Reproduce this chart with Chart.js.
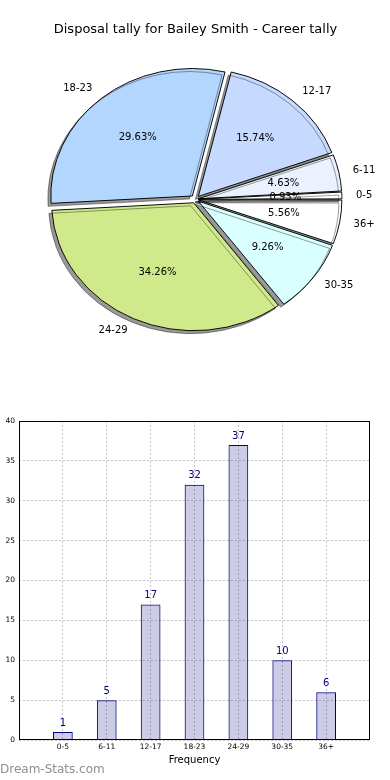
<!DOCTYPE html>
<html>
<head>
<meta charset="utf-8">
<script src="https://cdn.jsdelivr.net/npm/chart.js@4.4.1/dist/chart.umd.min.js"></script>
<style>
    body { margin: 0; background: #fff; width: 390px; height: 780px; position: relative; overflow: hidden; }
    #pieWrap { position: absolute; left: 0; top: 0; width: 390px; height: 400px; }
    #barWrap { position: absolute; left: 0; top: 400px; width: 390px; height: 380px; }
    #brand { position: absolute; left: 0; top: 762px; font: 12px "DejaVu Sans"; color: #8f8f8f; }
</style>
</head>
<body>
<div id="pieWrap"><canvas id="pieChart" width="390" height="400"></canvas></div>
<div id="barWrap"><canvas id="barChart" width="390" height="380"></canvas></div>
<div id="brand">Dream-Stats.com</div>
<script>
// data
var categories = ["0-5", "6-11", "12-17", "18-23", "24-29", "30-35", "36+"];
var tally = [1, 5, 17, 32, 37, 10, 6];
var percentLabels = ["0.93%", "4.63%", "15.74%", "29.63%", "34.26%", "9.26%", "5.56%"];
var sliceColors = ["#ffffff", "#ebf1ff", "#c6daff", "#b3d6ff", "#d0ea8b", "#d9ffff", "#ffffff"];
var yTicks = [0, 5, 10, 15, 20, 25, 30, 35, 40];

var titleText = "Disposal tally for Bailey Smith - Career tally";
var squash = 0.9; // pie is drawn a bit flat, like the original

// chart.js goes clockwise, the original goes counter clockwise from 3 o'clock
var pieLabels = categories.slice().reverse();
var pieValues = tally.slice().reverse();
var piePercents = percentLabels.slice().reverse();
var pieColors = sliceColors.slice().reverse();

// chart.js also grows thin slices when offset, so give them less offset
function explode(ctx) {
    const total = pieValues.reduce((a, b) => a + b, 0);
    const circ = pieValues[ctx.dataIndex] / total * Math.PI * 2;
    const fix = 1 - Math.sin(Math.min(Math.PI, circ));
    return 20 / (1 + fix);
}

var pieLook = {
    id: "pieLook",
    beforeDatasetsDraw: (chart) => {
        const ctx = chart.ctx;
        const arc = chart.getDatasetMeta(0).data[0];
        ctx.save();
        ctx.translate(arc.x, arc.y);
        ctx.scale(1, squash);
        ctx.translate(-arc.x, -arc.y);
        ctx.shadowColor = "rgba(0,0,0,0.4)";
        ctx.shadowOffsetX = -3;
        ctx.shadowOffsetY = 3;
        ctx.shadowBlur = 0;
    },
    afterDatasetsDraw: (chart) => {
        const ctx = chart.ctx;
        ctx.restore();
        ctx.save();
        ctx.font = "10px 'DejaVu Sans'";
        ctx.fillStyle = "#000";
        ctx.textBaseline = "middle";
        chart.getDatasetMeta(0).data.forEach((arc, i) => {
            const mid = (arc.startAngle + arc.endAngle) / 2;
            const shift = 5;
            const cx = arc.x + Math.cos(mid) * shift;
            const cy = arc.y + Math.sin(mid) * shift * squash;
            const r = arc.outerRadius;
            ctx.textAlign = "center";
            ctx.fillText(piePercents[i], cx + Math.cos(mid) * r * 0.6, cy + Math.sin(mid) * r * 0.6 * squash);
            const lx = cx + Math.cos(mid) * r * 1.1;
            const ly = cy + Math.sin(mid) * r * 1.1 * squash;
            ctx.textAlign = Math.cos(mid) < 0 ? "right" : "left";
            ctx.fillText(pieLabels[i], lx, ly);
        });
        ctx.restore();
    }
};

new Chart(document.getElementById("pieChart"), {
    type: "pie",
    data: {
        labels: pieLabels,
        datasets: [{
            data: pieValues,
            backgroundColor: pieColors,
            borderColor: "#000",
            borderWidth: 1,
            offset: explode
        }]
    },
    options: {
        responsive: false,
        animation: false,
        events: [],
        rotation: 90,
        layout: { padding: { left: 44, right: 43, top: 0, bottom: 49 } },
        plugins: {
            legend: { display: false },
            tooltip: { enabled: false },
            title: {
                display: true,
                text: titleText,
                color: "#000",
                font: { family: "DejaVu Sans", size: 13, weight: "normal" },
                padding: { top: 22, bottom: 10 }
            }
        }
    },
    plugins: [pieLook]
});

var barValues = {
    id: "barValues",
    afterDatasetsDraw: (chart) => {
        const ctx = chart.ctx;
        ctx.save();
        ctx.font = "10px 'DejaVu Sans'";
        ctx.fillStyle = "#000080";
        ctx.textAlign = "center";
        ctx.textBaseline = "middle";
        chart.getDatasetMeta(0).data.forEach((bar, i) => {
            ctx.fillText(tally[i], bar.x, bar.y - 9);
        });
        ctx.restore();
    },
    afterDraw: (chart) => {
        const a = chart.chartArea;
        const ctx = chart.ctx;
        ctx.save();
        ctx.strokeStyle = "#000";
        ctx.lineWidth = 1;
        ctx.strokeRect(a.left + 0.5, a.top + 0.5, a.right - a.left - 1, a.bottom - a.top - 1);
        ctx.restore();
    }
};

new Chart(document.getElementById("barChart"), {
    type: "bar",
    data: {
        datasets: [{
            data: tally.map((v, i) => ({ x: i, y: v })),
            backgroundColor: "rgba(0,0,128,0.2)",
            borderColor: "#000080",
            borderWidth: 1,
            barPercentage: 0.45,
            categoryPercentage: 1
        }]
    },
    options: {
        responsive: false,
        animation: false,
        events: [],
        layout: { padding: { left: 0, right: 20, top: 21, bottom: 0 } },
        plugins: { legend: { display: false }, tooltip: { enabled: false } },
        scales: {
            x: {
                type: "linear",
                min: -1,
                max: 7,
                offset: false,
                afterFit: (scale) => { scale.height = 40; },
                afterBuildTicks: (scale) => { scale.ticks = categories.map((c, i) => ({ value: i })); },
                ticks: {
                    autoSkip: false,
                    maxRotation: 0,
                    padding: 3,
                    color: "#000",
                    font: { family: "DejaVu Sans", size: 7.5 },
                    callback: (v) => categories[v]
                },
                grid: { color: "#c4c4c4", drawTicks: false, offset: false },
                // in v4 the dash of the grid lines lives under border
                border: { display: false, dash: [2, 2] },
                title: {
                    display: true,
                    text: "Frequency",
                    color: "#000",
                    font: { family: "DejaVu Sans", size: 10 },
                    padding: { top: 0, bottom: 14 }
                }
            },
            y: {
                min: 0,
                max: 40,
                afterFit: (scale) => { scale.width = 19; },
                afterBuildTicks: (scale) => { scale.ticks = yTicks.map((v) => ({ value: v })); },
                ticks: {
                    padding: 4,
                    color: "#000",
                    font: { family: "DejaVu Sans", size: 7.5 }
                },
                grid: { color: "#c4c4c4", drawTicks: false },
                border: { display: false, dash: [2, 2] }
            }
        }
    },
    plugins: [barValues]
});
</script>
</body>
</html>
